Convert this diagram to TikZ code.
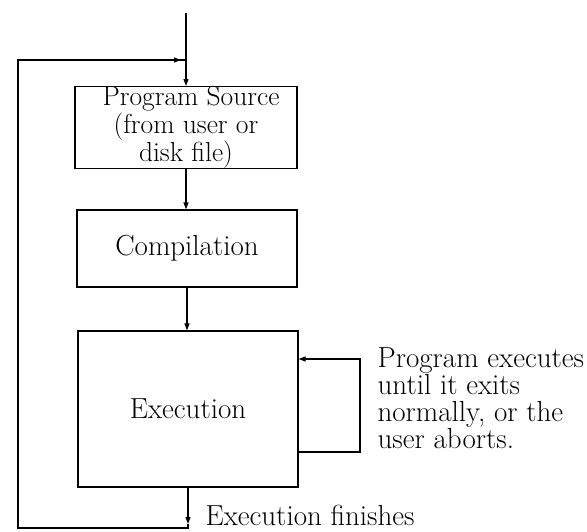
\documentclass[tikz,border=0pt]{standalone}
\usetikzlibrary{arrows.meta,calc}
\begin{document}
\begin{tikzpicture}[x=1pt,y=-1pt,
  line width=1.2pt,
  tip/.style={-{Triangle[length=7pt,width=5pt]}},
  stage/.style={draw,rectangle,inner sep=0pt,
    font=\fontsize{29}{20}\selectfont,align=center},
  note/.style={font=\fontsize{29}{27}\selectfont,align=left,inner sep=0pt}]
\useasboundingbox (0,0) rectangle (587,531);

% the three stages
\node[stage,minimum width=222pt,minimum height=79pt,
  font=\fontsize{27.5}{20}\selectfont] (src) at (186,127.5)
  {\hspace*{10pt}Program Source\\(from user or\\disk file)};
\node[stage,minimum width=220pt,minimum height=77pt] (comp) at (187,248.5)
  {Compilation};
\node[stage,minimum width=220pt,minimum height=156pt] (exec) at (188,409)
  {Execution};

% entry point and the join of the restart loop
\coordinate (entry) at (186,13);
\coordinate (join) at (186,60);
\draw (entry) -- (join);
\draw[tip] (join) -- (src.north);

\draw[tip] (src.south) -- (src.south |- comp.north);
\draw[tip] (comp.south) -- (comp.south |- exec.north);

% loop while the program runs
\coordinate (runR1) at (360,359);
\coordinate (runR2) at (360,452);
\draw[tip] (exec.east |- runR2) -- (runR2) -- (runR1) -- (exec.east |- runR1);
\node[note,anchor=base west] (runtxt) at (377,448)
  {Program executes\\until it exits\\normally, or the\\user aborts.};

% back to the source once execution is over
\coordinate (fin) at (188,524);
\coordinate (botR) at (188,528);
\coordinate (botL) at (18,528);
\coordinate (topL) at (18,60);
\coordinate (topA) at (181,60);
\draw[tip] (exec.south) -- (fin);
\draw (fin) -- (botR) -- (botL) -- (topL) -- (join);
\draw[tip] (topL) -- (topA);
\node[note,anchor=base west] (fintxt) at (205,525) {Execution finishes};
\end{tikzpicture}
\end{document}
